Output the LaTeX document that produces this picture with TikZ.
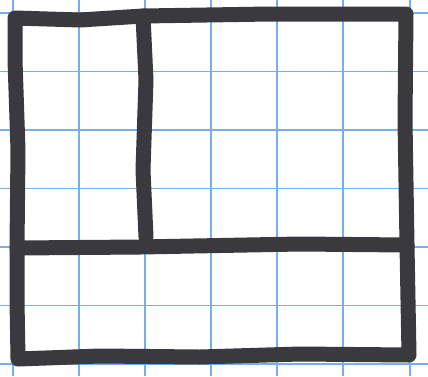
\documentclass[tikz,border=0pt]{standalone}
\usepackage{tikz}
\usetikzlibrary{calc}

\definecolor{gridblue}{RGB}{120,175,235}
\definecolor{marker}{RGB}{58,58,62}

\begin{document}
\begin{tikzpicture}[
  x=1pt, y=-1pt,
  gridline/.style={gridblue, line width=1.1pt},
  stroke/.style={marker, line width=15pt, line cap=round, line join=round}
]
\useasboundingbox (0,0) rectangle (428,376);
\fill[white] (0,0) rectangle (428,376);

% paper grid
\foreach \gx in {13,79,145,211,277,343,410}
  \draw[gridline] (\gx,0) -- (\gx,376);
\foreach \gy in {13,71.5,130,188.5,247,305.5,364}
  \draw[gridline] (0,\gy) -- (428,\gy);

% corners of the sketch
\coordinate (tl) at (15,18);
\coordinate (tr) at (406,14);
\coordinate (br) at (409,355);
\coordinate (bl) at (18,359);
\coordinate (ml) at (17,248);
\coordinate (mr) at (407,245);
\coordinate (vt) at (143,16);
\coordinate (vb) at (146,237);

% outer frame
\draw[stroke] (tl) -- (80,20) -- (vt) -- (270,14) -- (tr)
  -- (405,120) -- (mr) -- (br)
  -- (300,354) -- (200,357) -- (100,356) -- (bl)
  -- (17,300) -- (ml) -- (18,150) -- (15,60) -- cycle;

% inner divider, vertical
\draw[stroke] (vt) -- (146,80) -- (143,170) -- (vb);

% inner divider, horizontal
\draw[stroke] (ml) -- (140,247) -- (300,244) -- (mr);
\end{tikzpicture}
\end{document}
